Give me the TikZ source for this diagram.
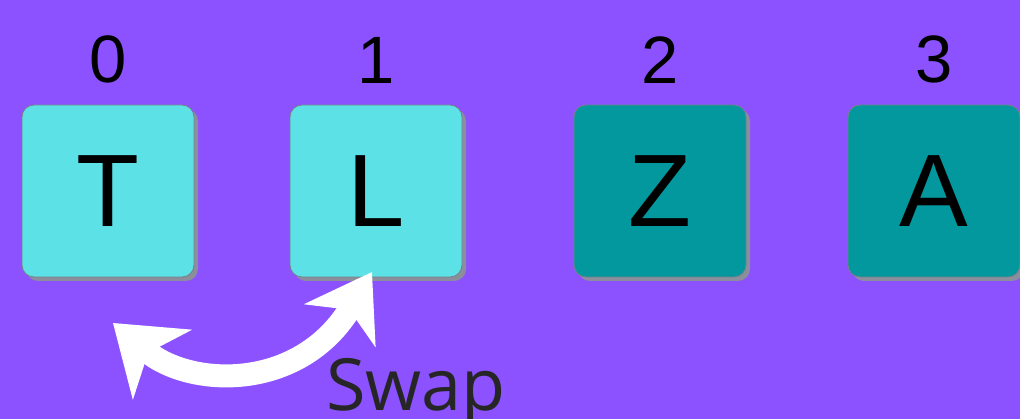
\documentclass[tikz,border=0pt]{standalone}
\usepackage{fontspec}
\setmainfont{Liberation Sans}
\newfontfamily\swapfont{Open Sans}
\usepackage{tikz}
\usetikzlibrary{
  arrows.meta,
  positioning,
  shadows
}
\definecolor{bgpurple}{RGB}{140, 82, 255}
\definecolor{cellA}{RGB}{92, 225, 230}
\definecolor{cellB}{RGB}{3, 152, 158}
\definecolor{celledge}{RGB}{120, 128, 140}
\definecolor{shadowgray}{RGB}{138, 143, 155}
\definecolor{swapclr}{RGB}{38, 38, 38}
\tikzset{
  % Massiv katakchalari
  cell/.style     = {rounded corners=12pt, draw=celledge, line width=0.8pt,
                     minimum width=172pt, minimum height=172pt, inner sep=0pt,
                     font=\fontsize{103}{103}\selectfont,
                     drop shadow={shadow xshift=4pt, shadow yshift=-4pt,
                                  fill=shadowgray, opacity=1}},
  cellA/.style    = {cell, fill=cellA},
  cellB/.style    = {cell, fill=cellB},
  % Indekslar
  idx/.style      = {inner sep=0pt, font=\fontsize{67}{67}\selectfont},
  % Almashtirish o'qi
  swaparrow/.style= {white, line width=23pt,
                     {Stealth[length=64pt, width=90pt, inset=18pt]}-{Stealth[length=62pt, width=82pt, inset=18pt]}},
  swaplab/.style  = {inner sep=0pt, text=swapclr, font=\swapfont\fontsize{72}{72}\selectfont},
}
\begin{document}
\begin{tikzpicture}[x=1pt, y=-1pt]
  % Fon
  \fill[bgpurple] (0,0) rectangle (1020,419);
  \useasboundingbox (0,0) rectangle (1020,419);
  % Katakchalar
  \node[cellA] (T) at (108,191) {T};
  \node[cellA] (L) at (376,191) {L};
  \node[cellB] (Z) at (660,191) {Z};
  \node[cellB] (A) at (934,191) {A};
  % Indekslar
  \node[idx, above=21pt of T] (i0) {0};
  \node[idx, above=21pt of L] (i1) {1};
  \node[idx, above=21pt of Z] (i2) {2};
  \node[idx, above=21pt of A] (i3) {3};
  % O'q
  \coordinate (sl) at (113,323);
  \coordinate (sr) at (372,272);
  \draw[swaparrow] (sl) .. controls (190,388) and (300,392) .. (sr);
  \node[swaplab, anchor=base west] (sw) at (326,410) {Swap};
\end{tikzpicture}
\end{document}
